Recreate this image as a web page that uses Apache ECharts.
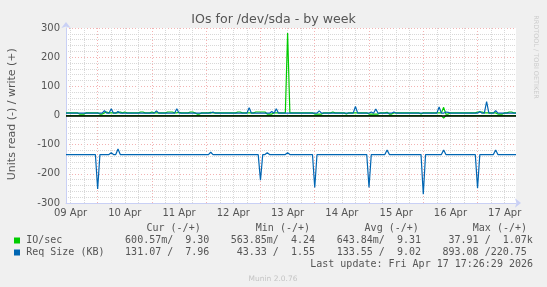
<!DOCTYPE html>
<html><head><meta charset="utf-8">
<script src="https://cdn.jsdelivr.net/npm/echarts@6/dist/echarts.min.js"></script>
<style>html,body{margin:0;padding:0;background:#f0f0f0}#c{width:547px;height:287px}</style>
</head><body><div id="c"></div>
<script>
// Day tick labels, index = days after 09 Apr
const dayLabels = ['09 Apr','10 Apr','11 Apr','12 Apr','13 Apr','14 Apr','15 Apr','16 Apr','17 Apr'];
// Hourly samples, first sample = 09 Apr 10:00 (hours counted from 09 Apr 00:00)
const firstHour = 10;
const sampleCount = 200;

// IO/sec write (+)
const writeIO = [
  9,9,9,9,9,9,5,5,5,9,9,9,9,9,
  9,5,5,9,12,9,9,9,9,9,12,9,12,9,9,9,9,9,9,12,12,9,9,9,
  12,9,9,9,9,9,9,12,12,12,9,9,11,9,9,9,9,12,12,9,5,5,9,9,
  9,9,11,9,9,9,9,9,9,9,9,9,9,9,12,12,9,9,9,9,9,9,12,12,
  12,12,12,5,5,5,9,9,9,9,9,9,283,9,9,9,9,9,9,9,9,9,9,9,
  5,5,5,5,9,9,9,9,12,9,9,9,9,9,5,9,9,9,9,9,9,9,9,9,
  5,5,5,5,5,9,9,9,11,5,5,9,9,9,9,9,9,9,9,9,9,9,9,5,
  9,9,9,9,9,9,9,9,9,28,5,5,9,9,9,9,9,9,9,9,9,9,9,9,
  12,12,12,9,9,9,9,9,9,5,5,5,9,9,12,12,9,9
];
// IO/sec read (-)
const readIO = [
  -0.6,-0.6,-0.6,-0.6,-0.6,-0.6,-0.6,-0.6,-0.6,-0.6,-0.6,-0.6,-0.6,-0.6,
  -0.6,-0.6,-0.6,-0.6,-0.6,-0.6,-0.6,-0.6,-0.6,-0.6,-0.6,-0.6,-0.6,-0.6,-0.6,-0.6,-0.6,-0.6,-0.6,-0.6,-0.6,-0.6,-0.6,-0.6,
  -0.6,-0.6,-0.6,-0.6,-0.6,-0.6,-0.6,-0.6,-0.6,-0.6,-0.6,-0.6,-0.6,-0.6,-0.6,-0.6,-0.6,-0.6,-0.6,-0.6,-0.6,-0.6,-0.6,-0.6,
  -0.6,-0.6,-0.6,-0.6,-0.6,-0.6,-0.6,-0.6,-0.6,-0.6,-0.6,-0.6,-0.6,-0.6,-0.6,-0.6,-0.6,-0.6,-0.6,-0.6,-0.6,-0.6,-0.6,-0.6,
  -0.6,-0.6,-0.6,-0.6,-0.6,-0.6,-0.6,-0.6,-0.6,-0.6,-0.6,-0.6,-0.6,-0.6,-0.6,-0.6,-0.6,-0.6,-0.6,-0.6,-0.6,-0.6,-0.6,-0.6,
  -0.6,-0.6,-0.6,-0.6,-0.6,-0.6,-0.6,-0.6,-0.6,-0.6,-0.6,-0.6,-0.6,-0.6,-0.6,-0.6,-0.6,-0.6,-0.6,-0.6,-0.6,-0.6,-0.6,-0.6,
  -0.6,-0.6,-0.6,-0.6,-0.6,-0.6,-0.6,-0.6,-0.6,-0.6,-0.6,-0.6,-0.6,-0.6,-0.6,-0.6,-0.6,-0.6,-0.6,-0.6,-0.6,-0.6,-0.6,-0.6,
  -0.6,-0.6,-0.6,-0.6,-0.6,-0.6,-0.6,-0.6,-0.6,-9,-0.6,-0.6,-0.6,-0.6,-0.6,-0.6,-0.6,-0.6,-0.6,-0.6,-0.6,-0.6,-0.6,-0.6,
  -0.6,-0.6,-0.6,-0.6,-0.6,-0.6,-0.6,-0.6,-0.6,-0.6,-0.6,-0.6,-0.6,-0.6,-0.6,-0.6,-0.6,-0.6
];
// Req Size (KB) write (+)
const writeReq = [
  8,8,8,8,8,8,8,8,8,8,8,8,8,8,
  8,8,8,17,8,8,23,8,8,14,8,8,8,8,8,8,8,8,8,8,8,8,8,8,
  8,8,16,8,8,8,8,8,8,8,8,23,8,8,8,8,8,8,8,8,8,8,8,8,
  8,8,8,12,8,8,8,8,8,8,8,8,8,8,8,8,8,8,8,27,8,8,8,8,
  8,8,8,8,8,14,8,23,8,8,8,8,8,8,8,8,8,8,8,8,8,8,8,8,
  8,8,16,8,8,8,8,8,8,8,8,8,8,8,8,8,8,8,31,8,8,8,8,8,
  8,12,8,22,8,8,8,8,8,8,8,12,8,8,8,8,8,8,8,8,8,8,8,8,
  8,8,8,8,8,8,8,29,8,8,12,11,8,8,8,8,8,8,8,8,8,8,8,8,
  8,14,8,8,48,8,8,8,17,8,8,8,8,8,8,8,8,8
];
// Req Size (KB) read (-)
const readReq = [
  -134,-134,-134,-134,-134,-134,-134,-134,-134,-134,-134,-134,-134,-134,
  -252,-134,-134,-134,-134,-134,-128,-134,-134,-115,-134,-134,-134,-134,-134,-134,-134,-134,-134,-134,-134,-134,-134,-134,
  -134,-134,-134,-134,-134,-134,-134,-134,-134,-134,-134,-134,-134,-134,-134,-134,-134,-134,-134,-134,-134,-134,-134,-134,
  -134,-134,-126,-134,-134,-134,-134,-134,-134,-134,-134,-134,-134,-134,-134,-134,-134,-134,-134,-134,-134,-134,-134,-134,
  -222,-134,-134,-128,-134,-134,-134,-134,-134,-134,-134,-134,-128,-134,-134,-134,-134,-134,-134,-134,-134,-134,-134,-134,
  -247,-134,-134,-134,-134,-134,-134,-134,-134,-134,-134,-134,-134,-134,-134,-134,-134,-134,-134,-134,-134,-134,-134,-134,
  -247,-134,-134,-134,-134,-134,-134,-134,-118,-134,-134,-134,-134,-134,-134,-134,-134,-134,-134,-134,-134,-134,-134,-134,
  -270,-134,-134,-134,-134,-134,-134,-134,-134,-118,-134,-134,-134,-134,-134,-134,-134,-134,-134,-134,-134,-134,-134,-134,
  -249,-134,-134,-134,-134,-134,-134,-134,-118,-134,-134,-134,-134,-134,-134,-134,-134,-134
];
const yTicks = [-300,-200,-100,0,100,200,300];

const hours = [];
for (let i = 0; i < sampleCount; i++) hours.push(firstHour + i);

const GREEN = '#00CC00', BLUE = '#0066B3';
const FONT = '#555555';
const MONO = '10px "DejaVu Sans Mono"';

const chart = echarts.init(document.getElementById('c'), null, {renderer: 'canvas'});

function lineSeries(name, data, color, extra) {
  return Object.assign({
    name, type: 'line', data, xAxisIndex: 0, yAxisIndex: 0,
    symbol: 'none', showSymbol: false, animation: false, silent: true,
    lineStyle: {color, width: 1.2}, itemStyle: {color}
  }, extra || {});
}

const texts = [];
function txt(text, x, y, font, fill, align, extra) {
  texts.push(Object.assign({type: 'text', x, y, silent: true,
    style: {text, font, fill, align, textAlign: align, verticalAlign: 'middle', textVerticalAlign: 'middle'}}, extra || {}));
}
txt('IOs for /dev/sda - by week', 273.6, 20, '12.6px "DejaVu Sans"', FONT, 'center');
txt('Units read (-) / write (+)', 11.7, 114.2, '11px "DejaVu Sans"', FONT, 'center', {rotation: Math.PI / 2});
txt('RRDTOOL / TOBI OETIKER', 536, 57, '6.5px "DejaVu Sans"', '#cccccc', 'center', {rotation: -Math.PI / 2});
const headers = ['Cur (-/+)', 'Min (-/+)', 'Avg (-/+)', 'Max (-/+)'];
const headerX = [146.5, 255.8, 364.6, 472.8];
headers.forEach((h, i) => txt(h, headerX[i], 228, MONO, FONT, 'left'));
const cellX = [125.1, 230.7, 336.7, 442.5];
const ioCells = ['600.57m/  9.30 ', '563.85m/  4.24 ', '643.84m/  9.31 ', ' 37.91 /  1.07k'];
const reqCells = ['131.07 /  7.96 ', ' 43.33 /  1.55 ', '133.55 /  9.02 ', '893.08 /220.75 '];
txt('IO/sec', 26.2, 240.5, MONO, FONT, 'left');
txt('Req Size (KB)', 26.2, 252.5, MONO, FONT, 'left');
ioCells.forEach((c, i) => txt(c, cellX[i], 240.5, MONO, FONT, 'left'));
reqCells.forEach((c, i) => txt(c, cellX[i], 252.5, MONO, FONT, 'left'));
txt('Last update: Fri Apr 17 17:26:29 2026', 533, 264.5, MONO, FONT, 'right');
txt('Munin 2.0.76', 273, 279, '7.5px "DejaVu Sans"', '#c4c4c4', 'center');
texts.push({type: 'rect', silent: true, shape: {x: 14, y: 237.5, width: 6, height: 6}, style: {fill: GREEN}});
texts.push({type: 'rect', silent: true, shape: {x: 14, y: 249.5, width: 6, height: 6}, style: {fill: BLUE}});

const axisColor = '#c9d0f5';
const minorGrid = {color: '#d8d8d8', width: 1, type: [1, 1]};
const majorGrid = {color: '#f3b3b3', width: 1, type: [1, 2]};
chart.setOption({
  backgroundColor: '#f0f0f0',
  animation: false,
  grid: {left: 66, right: 31, top: 28, bottom: 84, show: true, backgroundColor: '#ffffff', borderWidth: 0, containLabel: false},
  xAxis: [{
    type: 'category', data: hours, boundaryGap: false, position: 'bottom',
    axisLine: {show: true, onZero: false, lineStyle: {color: axisColor, width: 1},
      symbol: ['none', 'arrow'], symbolSize: [7, 6], symbolOffset: [0, 5]},
    axisTick: {show: false},
    axisLabel: {
      interval: (idx, v) => Number(v) % 24 === 12,
      formatter: v => dayLabels[Math.floor(Number(v) / 24)],
      color: FONT, fontFamily: 'DejaVu Sans', fontSize: 10, margin: 5
    },
    splitLine: {show: true, interval: (idx, v) => Number(v) % 6 === 0 && Number(v) % 24 !== 0, lineStyle: minorGrid}
  }, {
    type: 'category', data: hours, boundaryGap: false, position: 'top',
    axisLine: {show: false}, axisTick: {show: false}, axisLabel: {show: false},
    splitLine: {show: true, interval: (idx, v) => Number(v) % 24 === 0, lineStyle: majorGrid}
  }],
  yAxis: {
    type: 'value', min: yTicks[0], max: yTicks[yTicks.length - 1], interval: 100,
    axisLine: {show: true, onZero: false, lineStyle: {color: axisColor, width: 1},
      symbol: ['none', 'arrow'], symbolSize: [7, 6], symbolOffset: [0, 6]},
    axisTick: {show: false},
    axisLabel: {color: FONT, fontFamily: 'DejaVu Sans', fontSize: 10, margin: 6},
    splitLine: {show: true, lineStyle: majorGrid},
    minorTick: {show: false, splitNumber: 5},
    minorSplitLine: {show: true, lineStyle: minorGrid}
  },
  series: [
    lineSeries('IO/sec write', writeIO, GREEN),
    lineSeries('IO/sec read', readIO, GREEN),
    lineSeries('Req Size write', writeReq, BLUE),
    lineSeries('Req Size read', readReq, BLUE, {
      markLine: {silent: true, symbol: 'none', animation: false, label: {show: false},
        lineStyle: {color: '#000000', width: 1.5, type: 'solid'}, data: [{yAxis: 0}]}
    })
  ],
  graphic: texts
});
</script></body></html>
